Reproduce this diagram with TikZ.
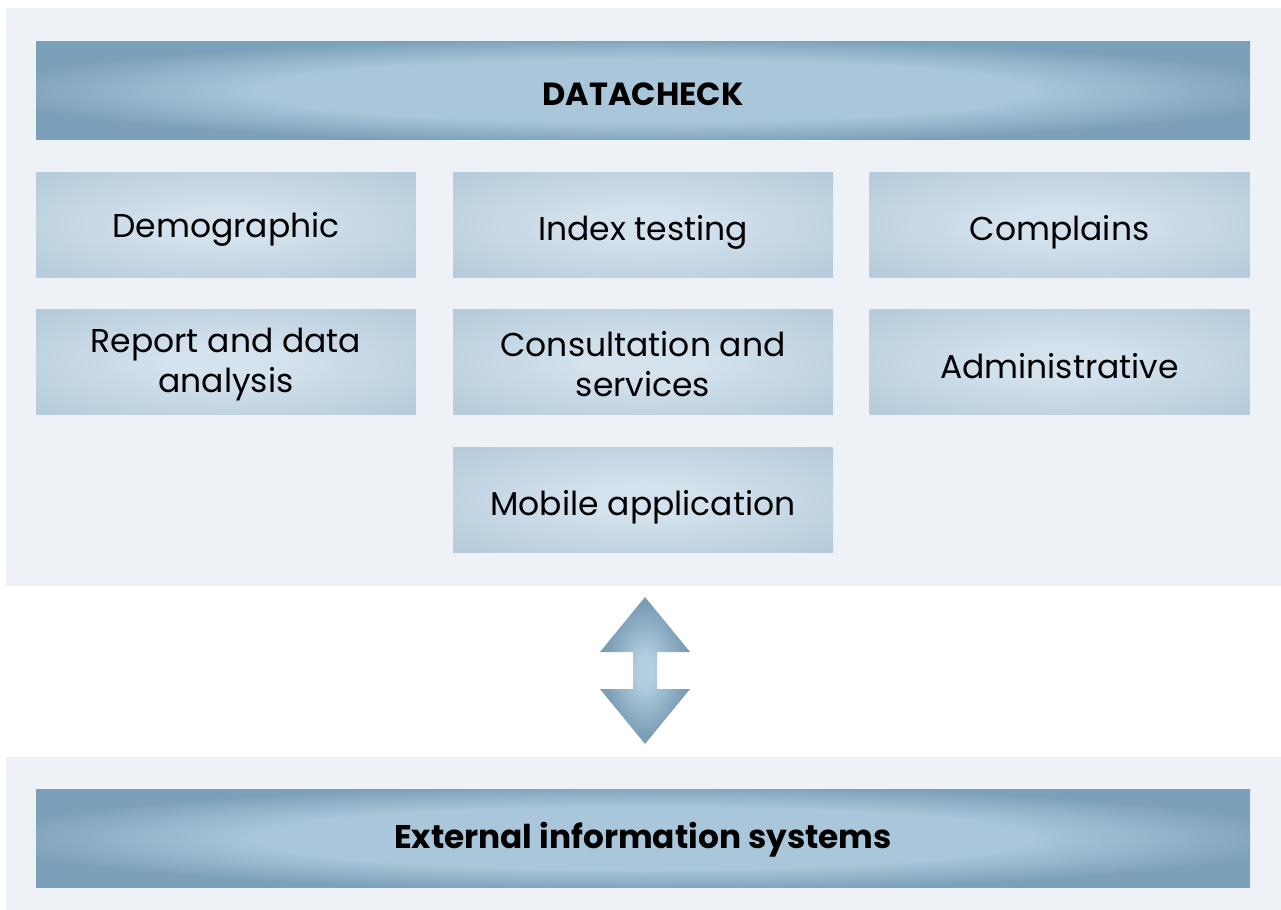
\documentclass[tikz,border=0pt]{standalone}
\usepackage{fontspec}
\setmainfont{Poppins}
\usetikzlibrary{positioning,calc}
\definecolor{PanelGray}{RGB}{238,242,247}
\definecolor{BarEdge}{RGB}{124,160,185}
\definecolor{BarMid}{RGB}{169,198,218}
\definecolor{BoxEdge}{RGB}{182,203,219}
\definecolor{BoxMid}{RGB}{211,226,237}
\definecolor{ArrowEdge}{RGB}{124,158,182}
\definecolor{ArrowMid}{RGB}{178,206,224}
\pgfdeclareradialshading{barshade}{\pgfpoint{0bp}{0bp}}{color(0bp)=(BarMid); color(16bp)=(BarMid); color(27bp)=(BarEdge); color(50bp)=(BarEdge)}
\pgfdeclareradialshading{boxshade}{\pgfpoint{0bp}{0bp}}{color(0bp)=(BoxMid); color(8bp)=(BoxMid); color(34bp)=(BoxEdge); color(50bp)=(BoxEdge)}
\pgfdeclareradialshading{arrowshade}{\pgfpoint{0bp}{0bp}}{color(0bp)=(ArrowMid); color(5bp)=(ArrowMid); color(22bp)=(ArrowEdge); color(50bp)=(ArrowEdge)}

\begin{document}
\begin{tikzpicture}[x=0.5pt, y=-0.5pt,
  bar/.style={shading=barshade, minimum width=607pt, minimum height=49pt, inner sep=0pt,
    text height=14.5pt, text depth=0pt, font=\fontsize{16}{20}\selectfont\bfseries},
  box/.style={shading=boxshade, minimum width=190pt, minimum height=52.5pt, inner sep=0pt,
    align=center, font=\fontsize{16.5}{20}\selectfont},
  single/.style={box, text height=16pt, text depth=0pt}]
  \useasboundingbox (0,0) rectangle (1281,910);

  % Upper panel - DATACHECK and its modules
  \fill[PanelGray] (6,8) rectangle (1281,586);
  \node[bar] (datacheck) at (643,90.5) {DATACHECK};
  \node[single, text height=12.5pt] (demographic) at (226,224.5) {Demographic};
  \node[single] (index) at (643,224.5) {Index testing};
  \node[single] (complains) at (1059.5,224.5) {Complains};
  \node[box] (report) at (226,362) {\rule{0pt}{15pt}Report and data\\analysis};
  \node[box] (consult) at (643,362) {\rule{0pt}{15pt}Consultation and\\services};
  \node[single] (admin) at (1059.5,362) {Administrative};
  \node[single] (mobile) at (643,499.5) {Mobile application};

  % Lower panel - external systems
  \fill[PanelGray] (6,757) rectangle (1281,910);
  \node[bar, text height=10pt, font=\fontsize{16.4}{20}\selectfont\bfseries] (external) at (643,838) {External information systems};

  % Exchange arrow between the panels
  \coordinate (arrowtop) at (645,597);
  \coordinate (arrowbot) at (645,744);
  \shade[shading=arrowshade] (arrowtop) -- ++(45,55) -- ++(-33,0) -- ++(0,37) -- ++(33,0)
    -- (arrowbot) -- ++(-45,-55) -- ++(33,0) -- ++(0,-37) -- ++(-33,0) -- cycle;
\end{tikzpicture}
\end{document}
